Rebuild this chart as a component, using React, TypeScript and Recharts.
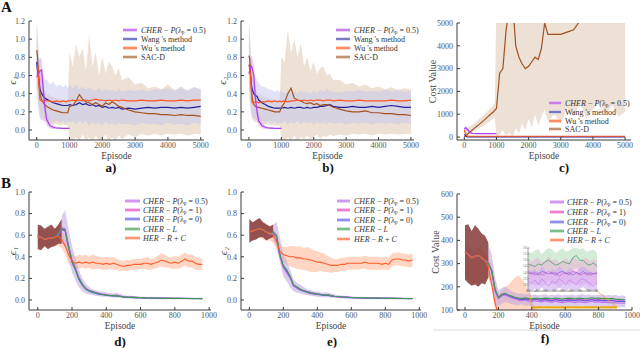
import React from 'react';
import { ComposedChart, Line, Area, XAxis, YAxis, ReferenceLine } from 'recharts';

const SERIF = '"Liberation Serif", "Times New Roman", "DejaVu Serif", serif';

// ---------- categories / ticks ----------
const X_AB = [0, 25, 50, 75, 100, 150, 200, 250, 300, 400, 500, 600, 700, 800, 900, 950, 1000, 1100, 1200, 1300, 1400, 1500, 1600, 1700, 1800, 1900, 2000, 2100, 2200, 2300, 2400, 2500, 2600, 2800, 3000, 3200, 3400, 3600, 3800, 4000, 4200, 4400, 4600, 4800, 5000];
const X_DEF = [0, 20, 40, 60, 80, 100, 120, 140, 160, 180, 200, 220, 240, 260, 280, 300, 320, 340, 360, 380, 400, 420, 440, 460, 480, 500, 520, 540, 560, 580, 600, 620, 640, 660, 680, 700, 720, 740, 760, 780, 800, 820, 840, 860, 880, 900, 920, 940, 960];
const X_INSET = [400, 420, 440, 460, 480, 500, 520, 540, 560, 580, 600, 620, 640, 660, 680, 700, 720, 740, 760, 780, 800];
const TICKS_X_AB = [0, 1000, 2000, 3000, 4000, 5000];
const TICKS_X_DEF = [0, 200, 400, 600, 800, 1000];
const TICKS_Y_AB = [0, 0.2, 0.4, 0.6, 0.8, 1.0, 1.2];
const TICKS_Y_DE = [0, 0.2, 0.4, 0.6, 0.8, 1.0];
const TICKS_Y_C = [0, 1000, 2000, 3000, 4000, 5000];
const TICKS_Y_F = [100, 200, 300, 400, 500, 600];
const TICKS_X_INSET = [400, 450, 500, 550, 600, 650, 700, 750, 800];
const TICKS_Y_INSET = [130, 135, 140, 145, 150, 155, 160];

// ---------- panel a (e1, long run) ----------
const A_CHER = [0.58, 0.6, 0.62, 0.63, 0.65, 0.66, 0.45, 0.25, 0.12, 0.05, 0.03, 0.022, 0.02, 0.018, 0.017, 0.017, 0.017];
const A_CHER_LO = [0.45, 0.45, 0.5, 0.5, 0.5, 0.45, 0.25, 0.12, 0.05, 0.02, 0.01, 0.01, 0.01, 0.01, 0.01, 0.01, 0.01];
const A_CHER_HI = [0.8, 0.8, 0.75, 0.78, 0.8, 0.78, 0.6, 0.38, 0.2, 0.09, 0.05, 0.035, 0.03, 0.025, 0.025, 0.025, 0.025];
const A_WANG = [0.75, 0.65, 0.6, 0.52, 0.45, 0.4, 0.37, 0.35, 0.34, 0.32, 0.3, 0.29, 0.28, 0.27, 0.27, 0.27, 0.28, 0.27, 0.28, 0.3, 0.28, 0.29, 0.27, 0.28, 0.26, 0.27, 0.25, 0.26, 0.24, 0.25, 0.24, 0.25, 0.23, 0.24, 0.23, 0.24, 0.25, 0.24, 0.25, 0.25, 0.24, 0.25, 0.24, 0.25, 0.26];
const A_WANG_LO = [0.45, 0.3, 0.25, 0.18, 0.12, 0.1, 0.14, 0.08, 0.12, 0.1, 0.07, 0.11, 0.08, 0.1, 0.06, 0.1, 0.08, 0.1, 0.06, 0.1, 0.07, 0.1, 0.05, 0.09, 0.06, 0.08, 0.05, 0.09, 0.06, 0.08, 0.05, 0.08, 0.06, 0.07, 0.05, 0.08, 0.06, 0.07, 0.05, 0.08, 0.06, 0.07, 0.05, 0.08, 0.06];
const A_WANG_HI = [1.15, 0.95, 0.9, 0.75, 0.7, 0.62, 0.6, 0.55, 0.56, 0.5, 0.53, 0.48, 0.5, 0.47, 0.5, 0.46, 0.5, 0.46, 0.5, 0.45, 0.48, 0.44, 0.47, 0.45, 0.43, 0.46, 0.42, 0.45, 0.43, 0.44, 0.42, 0.45, 0.42, 0.44, 0.43, 0.45, 0.42, 0.45, 0.44, 0.46, 0.43, 0.46, 0.44, 0.47, 0.45];
const A_WU = [0.7, 0.68, 0.62, 0.45, 0.33, 0.32, 0.32, 0.33, 0.32, 0.32, 0.31, 0.32, 0.31, 0.32, 0.31, 0.32, 0.32, 0.33, 0.32, 0.33, 0.32, 0.33, 0.32, 0.33, 0.34, 0.33, 0.33, 0.32, 0.33, 0.32, 0.33, 0.32, 0.33, 0.32, 0.32, 0.33, 0.32, 0.32, 0.33, 0.32, 0.32, 0.33, 0.32, 0.33, 0.33];
const A_SAC = [0.88, 0.8, 0.65, 0.5, 0.4, 0.33, 0.3, 0.28, 0.26, 0.24, 0.22, 0.21, 0.2, 0.19, 0.19, 0.19, 0.26, 0.27, 0.32, 0.39, 0.34, 0.31, 0.3, 0.28, 0.3, 0.28, 0.26, 0.3, 0.28, 0.31, 0.29, 0.26, 0.25, 0.22, 0.2, 0.19, 0.18, 0.18, 0.17, 0.17, 0.16, 0.17, 0.16, 0.16, 0.15];
const A_SAC_LO = [0.55, 0.45, 0.3, 0.2, 0.15, 0.12, 0.1, 0.1, 0.08, 0.08, 0.06, 0.07, 0.05, 0.06, 0.05, 0.05, -0.1, -0.12, -0.08, -0.12, -0.05, -0.12, -0.08, -0.12, -0.06, -0.12, -0.1, -0.05, -0.12, -0.08, -0.12, -0.06, -0.1, -0.05, -0.08, -0.04, -0.06, -0.04, -0.06, -0.04, -0.05, -0.04, -0.06, -0.04, -0.05];
const A_SAC_HI = [1.2, 1.1, 0.9, 0.7, 0.6, 0.5, 0.45, 0.42, 0.4, 0.38, 0.36, 0.35, 0.34, 0.33, 0.33, 0.33, 0.85, 0.7, 0.95, 0.8, 0.9, 0.65, 1.05, 0.7, 0.85, 0.6, 0.8, 0.62, 0.75, 0.7, 0.6, 0.68, 0.55, 0.58, 0.5, 0.52, 0.46, 0.48, 0.45, 0.5, 0.44, 0.48, 0.43, 0.47, 0.45];

// ---------- panel b (e2, long run) ----------
const B_CHER = [0.62, 0.66, 0.68, 0.7, 0.68, 0.6, 0.35, 0.2, 0.1, 0.05, 0.03, 0.022, 0.02, 0.018, 0.017, 0.017, 0.017];
const B_CHER_LO = [0.5, 0.52, 0.55, 0.58, 0.56, 0.45, 0.22, 0.1, 0.05, 0.02, 0.01, 0.01, 0.01, 0.01, 0.01, 0.01, 0.01];
const B_CHER_HI = [0.8, 0.82, 0.8, 0.82, 0.8, 0.72, 0.5, 0.32, 0.18, 0.09, 0.05, 0.035, 0.03, 0.025, 0.025, 0.025, 0.025];
const B_WANG = [0.7, 0.72, 0.6, 0.5, 0.45, 0.4, 0.38, 0.37, 0.33, 0.3, 0.28, 0.26, 0.25, 0.24, 0.24, 0.24, 0.24, 0.25, 0.24, 0.25, 0.24, 0.25, 0.25, 0.24, 0.25, 0.24, 0.25, 0.25, 0.26, 0.26, 0.27, 0.28, 0.26, 0.25, 0.25, 0.26, 0.25, 0.25, 0.26, 0.25, 0.26, 0.27, 0.26, 0.25, 0.25];
const B_WANG_LO = [0.4, 0.3, 0.22, 0.18, 0.15, 0.12, 0.13, 0.1, 0.12, 0.1, 0.08, 0.1, 0.07, 0.1, 0.06, 0.09, 0.07, 0.1, 0.06, 0.09, 0.07, 0.1, 0.06, 0.09, 0.07, 0.09, 0.06, 0.09, 0.07, 0.08, 0.06, 0.09, 0.07, 0.08, 0.06, 0.08, 0.07, 0.08, 0.06, 0.08, 0.07, 0.08, 0.06, 0.08, 0.07];
const B_WANG_HI = [1.1, 1.0, 0.88, 0.75, 0.68, 0.6, 0.58, 0.55, 0.52, 0.48, 0.47, 0.45, 0.44, 0.42, 0.44, 0.41, 0.43, 0.4, 0.44, 0.41, 0.43, 0.4, 0.43, 0.41, 0.42, 0.4, 0.43, 0.41, 0.44, 0.42, 0.45, 0.43, 0.42, 0.41, 0.43, 0.42, 0.44, 0.42, 0.43, 0.42, 0.44, 0.43, 0.44, 0.42, 0.43];
const B_WU = [0.72, 0.7, 0.6, 0.42, 0.3, 0.3, 0.31, 0.31, 0.3, 0.31, 0.31, 0.32, 0.31, 0.32, 0.31, 0.32, 0.31, 0.32, 0.31, 0.32, 0.32, 0.33, 0.32, 0.33, 0.32, 0.33, 0.32, 0.33, 0.33, 0.32, 0.33, 0.33, 0.32, 0.33, 0.32, 0.32, 0.33, 0.32, 0.32, 0.32, 0.32, 0.33, 0.32, 0.32, 0.33];
const B_SAC = [0.82, 0.78, 0.6, 0.45, 0.35, 0.28, 0.26, 0.25, 0.25, 0.24, 0.23, 0.22, 0.21, 0.2, 0.2, 0.2, 0.25, 0.3, 0.4, 0.46, 0.35, 0.33, 0.32, 0.3, 0.29, 0.3, 0.28, 0.29, 0.27, 0.28, 0.28, 0.27, 0.25, 0.23, 0.21, 0.2, 0.2, 0.21, 0.19, 0.19, 0.18, 0.18, 0.17, 0.17, 0.16];
const B_SAC_LO = [0.5, 0.4, 0.28, 0.18, 0.12, 0.1, 0.09, 0.08, 0.08, 0.07, 0.06, 0.06, 0.05, 0.05, 0.05, 0.05, -0.1, -0.12, -0.08, -0.12, -0.06, -0.12, -0.08, -0.1, -0.06, -0.1, -0.08, -0.05, -0.1, -0.06, -0.08, -0.05, -0.07, -0.05, -0.06, -0.04, -0.05, -0.04, -0.06, -0.04, -0.05, -0.04, -0.05, -0.04, -0.04];
const B_SAC_HI = [1.2, 1.1, 0.9, 0.72, 0.6, 0.5, 0.45, 0.42, 0.4, 0.38, 0.36, 0.35, 0.34, 0.33, 0.33, 0.33, 0.8, 0.75, 1.1, 0.85, 1.0, 0.8, 0.95, 0.7, 0.8, 0.65, 0.75, 0.62, 0.68, 0.7, 0.6, 0.62, 0.55, 0.55, 0.5, 0.52, 0.48, 0.5, 0.46, 0.48, 0.45, 0.47, 0.44, 0.46, 0.45];

// ---------- panel c (cost, long run) ----------
const C_CHER = [350, 380, 400, 360, 330, 250, 180, 160, 155, 150, 150, 150, 150, 148, 148, 150, 150];
const C_CHER_LO = [250, 280, 300, 270, 250, 170, 140, 135, 135, 135, 135, 135, 135, 135, 135, 135, 135];
const C_CHER_HI = [450, 480, 480, 450, 420, 340, 220, 180, 175, 170, 170, 170, 170, 168, 168, 170, 170];
const C_WANG = [120, 80, 40, 20, 10, 5, 5, 5, 5, 5, 5, 5, 5, 5, 5, 5, 5, 5, 5, 5, 5, 5, 5, 5, 5, 5, 5, 5, 5, 5, 5, 5, 5, 5, 5, 5, 5, 5, 5, 5, 5, 5, 5, 5, 5];
const C_WU = [300, 200, 120, 60, 40, 35, 35, 35, 35, 35, 35, 35, 35, 35, 35, 35, 35, 35, 35, 35, 35, 35, 35, 35, 35, 35, 35, 35, 35, 35, 35, 35, 35, 35, 35, 35, 35, 35, 35, 35, 35, 35, 35, 35, 35];
const C_SAC = [0, 30, 60, 90, 130, 190, 250, 310, 370, 480, 600, 720, 850, 980, 1100, 1180, 1250, 2800, 3000, 4700, 5600, 6000, 4000, 3500, 3200, 3000, 3100, 3300, 3500, 3400, 3900, 5000, 4500, 4500, 4500, 4600, 4700, 5100, 5400, 5600, 5700, 5900, 6000, 6100, 6200];
const C_SAC_LO = [0, 0, 10, 30, 60, 100, 150, 200, 250, 330, 420, 500, 600, 700, 800, 850, 0, 100, 300, 50, 200, 0, 400, 150, 600, 300, 800, 400, 1000, 500, 900, 1200, 700, 1000, 600, 1300, 900, 1500, 800, 1200, 1600, 1000, 1400, 900, 1100];
const C_SAC_HI = [300, 350, 350, 350, 400, 450, 500, 550, 600, 700, 850, 950, 1100, 1250, 1400, 1500, 6000, 6000, 6000, 6000, 6000, 6000, 6000, 6000, 6000, 6000, 6000, 6000, 6000, 6000, 6000, 6000, 6000, 6000, 6000, 6000, 6000, 6000, 6000, 6000, 6000, 6000, 6000, 6000, 6000];

// ---------- panel d (e1, ablation) ----------
const D_HER = [0.59, 0.58, 0.56, 0.57, 0.57, 0.58, 0.59, 0.56, 0.5, 0.42, 0.36, 0.34, 0.35, 0.34, 0.35, 0.34, 0.35, 0.34, 0.34, 0.33, 0.34, 0.33, 0.34, 0.33, 0.32, 0.31, 0.32, 0.32, 0.33, 0.33, 0.33, 0.34, 0.34, 0.33, 0.34, 0.35, 0.37, 0.36, 0.35, 0.34, 0.35, 0.34, 0.36, 0.38, 0.36, 0.36, 0.34, 0.33, 0.33];
const D_HER_LO = [0.5, 0.5, 0.48, 0.5, 0.49, 0.5, 0.5, 0.48, 0.42, 0.34, 0.3, 0.29, 0.29, 0.3, 0.29, 0.3, 0.28, 0.29, 0.29, 0.28, 0.28, 0.29, 0.28, 0.28, 0.27, 0.27, 0.27, 0.28, 0.28, 0.28, 0.29, 0.29, 0.28, 0.28, 0.29, 0.3, 0.31, 0.3, 0.3, 0.29, 0.29, 0.29, 0.3, 0.32, 0.3, 0.3, 0.28, 0.28, 0.28];
const D_HER_HI = [0.68, 0.66, 0.64, 0.65, 0.66, 0.66, 0.68, 0.64, 0.58, 0.5, 0.43, 0.4, 0.42, 0.41, 0.42, 0.4, 0.42, 0.41, 0.4, 0.39, 0.4, 0.39, 0.4, 0.38, 0.37, 0.36, 0.37, 0.37, 0.38, 0.38, 0.38, 0.39, 0.4, 0.38, 0.39, 0.41, 0.43, 0.42, 0.4, 0.39, 0.41, 0.4, 0.42, 0.44, 0.42, 0.42, 0.4, 0.39, 0.38];
const D_EARLY_LO = [0.47, 0.46, 0.5, 0.47, 0.49, 0.5, 0.52, 0.52];
const D_EARLY_HI = [0.7, 0.69, 0.66, 0.68, 0.7, 0.66, 0.7, 0.75];
const D_BAND_LO = [null, null, null, null, null, null, null, 0.52, 0.5, 0.38, 0.26, 0.18, 0.12, 0.08, 0.06, 0.05, 0.045, 0.04, 0.035, 0.03, 0.03, 0.025, 0.025, 0.02, 0.02, 0.015, 0.015, 0.012, 0.012, 0.01, 0.01, 0.008, 0.008, 0.007, 0.008, 0.007, 0.006, 0.007, 0.006, 0.006, 0.005, 0.006, 0.005, 0.005, 0.005, 0.005, 0.005, 0.004, 0.004];
const D_BAND_HI = [null, null, null, null, null, null, null, 0.78, 0.83, 0.65, 0.5, 0.38, 0.28, 0.2, 0.15, 0.12, 0.1, 0.09, 0.08, 0.075, 0.07, 0.065, 0.06, 0.065, 0.055, 0.045, 0.04, 0.04, 0.035, 0.035, 0.03, 0.03, 0.028, 0.03, 0.027, 0.026, 0.025, 0.027, 0.025, 0.024, 0.025, 0.023, 0.024, 0.022, 0.023, 0.022, 0.021, 0.022, 0.02];
const D_GREEN = [0.59, 0.58, 0.56, 0.57, 0.57, 0.58, 0.62, 0.66, 0.64, 0.48, 0.36, 0.28, 0.2, 0.14, 0.1, 0.085, 0.075, 0.065, 0.055, 0.05, 0.045, 0.042, 0.04, 0.038, 0.033, 0.028, 0.026, 0.025, 0.024, 0.022, 0.02, 0.019, 0.018, 0.018, 0.017, 0.017, 0.016, 0.016, 0.016, 0.015, 0.015, 0.015, 0.014, 0.014, 0.014, 0.013, 0.013, 0.013, 0.012];
const D_VIOLET = [0.59, 0.58, 0.56, 0.57, 0.57, 0.58, 0.61, 0.67, 0.66, 0.5, 0.37, 0.3, 0.21, 0.15, 0.11, 0.09, 0.08, 0.07, 0.062, 0.055, 0.05, 0.046, 0.044, 0.045, 0.038, 0.03, 0.028, 0.027, 0.026, 0.024, 0.022, 0.021, 0.02, 0.019, 0.019, 0.018, 0.018, 0.017, 0.017, 0.016, 0.016, 0.016, 0.015, 0.015, 0.015, 0.014, 0.014, 0.014, 0.013];
const D_BLUE = [0.59, 0.58, 0.56, 0.57, 0.57, 0.58, 0.6, 0.66, 0.65, 0.49, 0.35, 0.28, 0.19, 0.14, 0.1, 0.08, 0.07, 0.06, 0.05, 0.048, 0.044, 0.04, 0.038, 0.036, 0.032, 0.027, 0.025, 0.024, 0.022, 0.021, 0.02, 0.018, 0.017, 0.017, 0.016, 0.016, 0.015, 0.015, 0.015, 0.014, 0.014, 0.014, 0.013, 0.013, 0.013, 0.012, 0.012, 0.012, 0.011];
const D_PINK = [0.59, 0.58, 0.56, 0.57, 0.57, 0.58, 0.6, 0.65, 0.64, 0.5, 0.36, 0.29, 0.2, 0.14, 0.11, 0.085, 0.075, 0.065, 0.058, 0.05, 0.046, 0.042, 0.04, 0.04, 0.034, 0.028, 0.026, 0.025, 0.024, 0.022, 0.02, 0.019, 0.019, 0.018, 0.018, 0.017, 0.017, 0.016, 0.016, 0.016, 0.015, 0.015, 0.015, 0.014, 0.014, 0.014, 0.013, 0.013, 0.013];

// ---------- panel e (e2, ablation) ----------
const E_HER = [0.63, 0.64, 0.65, 0.66, 0.65, 0.63, 0.62, 0.6, 0.54, 0.45, 0.42, 0.41, 0.4, 0.4, 0.39, 0.39, 0.38, 0.38, 0.37, 0.36, 0.35, 0.35, 0.34, 0.33, 0.32, 0.32, 0.32, 0.33, 0.33, 0.34, 0.34, 0.34, 0.34, 0.34, 0.35, 0.34, 0.34, 0.34, 0.34, 0.33, 0.34, 0.33, 0.37, 0.38, 0.38, 0.37, 0.37, 0.36, 0.37];
const E_HER_LO = [0.55, 0.56, 0.57, 0.58, 0.56, 0.55, 0.55, 0.53, 0.47, 0.38, 0.35, 0.33, 0.31, 0.3, 0.29, 0.28, 0.28, 0.27, 0.26, 0.26, 0.26, 0.27, 0.26, 0.26, 0.25, 0.26, 0.26, 0.27, 0.27, 0.28, 0.28, 0.28, 0.28, 0.29, 0.29, 0.28, 0.28, 0.28, 0.28, 0.28, 0.28, 0.28, 0.31, 0.32, 0.32, 0.31, 0.31, 0.3, 0.31];
const E_HER_HI = [0.72, 0.72, 0.74, 0.75, 0.73, 0.71, 0.69, 0.67, 0.61, 0.52, 0.49, 0.49, 0.5, 0.5, 0.49, 0.5, 0.48, 0.49, 0.48, 0.46, 0.45, 0.44, 0.43, 0.41, 0.39, 0.38, 0.38, 0.39, 0.39, 0.4, 0.4, 0.4, 0.4, 0.4, 0.41, 0.4, 0.4, 0.4, 0.4, 0.39, 0.4, 0.39, 0.43, 0.44, 0.44, 0.43, 0.43, 0.42, 0.43];
const E_EARLY_LO = [0.53, 0.55, 0.56, 0.58, 0.58, 0.55, 0.57, 0.58];
const E_EARLY_HI = [0.75, 0.72, 0.74, 0.76, 0.72, 0.7, 0.68, 0.7];
const E_BAND_LO = [null, null, null, null, null, null, null, 0.55, 0.5, 0.35, 0.22, 0.17, 0.12, 0.08, 0.07, 0.06, 0.05, 0.045, 0.04, 0.035, 0.03, 0.028, 0.025, 0.025, 0.02, 0.018, 0.015, 0.013, 0.012, 0.01, 0.01, 0.008, 0.008, 0.007, 0.008, 0.007, 0.006, 0.007, 0.006, 0.006, 0.005, 0.006, 0.005, 0.005, 0.005, 0.005, 0.005, 0.004, 0.004];
const E_BAND_HI = [null, null, null, null, null, null, null, 0.7, 0.72, 0.58, 0.42, 0.36, 0.28, 0.19, 0.16, 0.14, 0.12, 0.1, 0.09, 0.08, 0.075, 0.07, 0.068, 0.07, 0.06, 0.05, 0.045, 0.042, 0.04, 0.036, 0.033, 0.03, 0.028, 0.03, 0.027, 0.026, 0.025, 0.027, 0.025, 0.024, 0.025, 0.023, 0.024, 0.022, 0.023, 0.022, 0.021, 0.022, 0.02];
const E_GREEN = [0.63, 0.64, 0.65, 0.66, 0.65, 0.63, 0.62, 0.63, 0.6, 0.42, 0.32, 0.28, 0.22, 0.14, 0.12, 0.1, 0.085, 0.075, 0.065, 0.06, 0.055, 0.05, 0.045, 0.045, 0.04, 0.035, 0.032, 0.03, 0.028, 0.025, 0.023, 0.022, 0.021, 0.02, 0.019, 0.018, 0.018, 0.017, 0.017, 0.016, 0.016, 0.015, 0.015, 0.015, 0.014, 0.014, 0.013, 0.013, 0.013];
const E_VIOLET = [0.63, 0.64, 0.65, 0.66, 0.65, 0.63, 0.61, 0.62, 0.58, 0.4, 0.3, 0.25, 0.2, 0.13, 0.11, 0.095, 0.085, 0.075, 0.07, 0.065, 0.058, 0.052, 0.048, 0.05, 0.042, 0.035, 0.032, 0.03, 0.028, 0.026, 0.024, 0.023, 0.022, 0.021, 0.02, 0.019, 0.019, 0.018, 0.018, 0.017, 0.017, 0.016, 0.016, 0.016, 0.015, 0.015, 0.014, 0.014, 0.014];
const E_BLUE = [0.63, 0.64, 0.65, 0.66, 0.65, 0.63, 0.61, 0.62, 0.59, 0.41, 0.31, 0.26, 0.21, 0.13, 0.11, 0.09, 0.08, 0.07, 0.06, 0.055, 0.05, 0.046, 0.042, 0.042, 0.038, 0.033, 0.03, 0.028, 0.026, 0.024, 0.022, 0.021, 0.02, 0.019, 0.018, 0.017, 0.017, 0.016, 0.016, 0.015, 0.015, 0.015, 0.014, 0.014, 0.014, 0.013, 0.013, 0.012, 0.012];
const E_PINK = [0.63, 0.64, 0.65, 0.66, 0.65, 0.63, 0.61, 0.62, 0.58, 0.41, 0.31, 0.27, 0.21, 0.14, 0.12, 0.1, 0.088, 0.078, 0.068, 0.062, 0.056, 0.05, 0.046, 0.048, 0.04, 0.034, 0.031, 0.029, 0.027, 0.025, 0.023, 0.022, 0.021, 0.02, 0.019, 0.019, 0.018, 0.018, 0.017, 0.017, 0.016, 0.016, 0.015, 0.015, 0.015, 0.014, 0.014, 0.014, 0.013];

// ---------- panel f (cost, ablation) ----------
const F_HER = [350, 340, 325, 332, 335, 325, 312, 285, 210, 130, 80];
const F_HER_LO = [240, 230, 220, 215, 225, 220, 230, 240, 190, 100, 60, 60, 60, 60, 60, 60, 60, 60, 60, 60, 60, 60, 60];
const F_HER_HI = [380, 370, 360, 365, 370, 360, 340, 330, 300, 230, 170, 180, 200, 210, 225, 240, 250, 235, 215, 180, 140, 115, 95];
const F_EARLY_LO = [230, 215, 205, 210, 200, 215, 210, 240];
const F_EARLY_HI = [465, 470, 440, 465, 450, 430, 420, 390];
const F_BAND_LO = [null, null, null, null, null, null, null, 250, 200, 120, 115, 125, 135, 130, 125, 122, 120, 125, 118, 120, 115, 118, 112, 115, 118, 112, 116, 114, 118, 112, 115, 113, 117, 112, 115, 118, 113, 116, 112, 115, 113, 117, 112, 114, 112, 115, 110, 113, 111];
const F_BAND_HI = [null, null, null, null, null, null, null, 380, 340, 240, 185, 195, 200, 190, 180, 175, 170, 172, 168, 170, 165, 168, 164, 166, 169, 163, 167, 165, 168, 162, 166, 164, 168, 163, 166, 169, 164, 167, 163, 166, 164, 168, 162, 165, 163, 166, 160, 163, 160];
const F_GREEN = [350, 340, 325, 332, 335, 325, 312, 300, 270, 190, 155, 168, 172, 165, 160, 155, 152, 150, 153, 150, 148, 152, 150, 149, 151, 150, 148, 152, 150, 147, 149, 151, 150, 148, 152, 150, 148, 151, 153, 150, 152, 149, 150, 148, 150, 147, 146, 145, 144];
const F_VIOLET = [350, 340, 325, 332, 335, 325, 312, 305, 265, 180, 148, 160, 165, 158, 152, 148, 142, 140, 143, 138, 136, 140, 137, 135, 139, 136, 133, 138, 135, 132, 134, 137, 135, 132, 136, 134, 131, 135, 138, 134, 136, 133, 134, 131, 133, 130, 131, 129, 130];
const F_BLUE = [350, 340, 325, 332, 335, 325, 312, 302, 268, 185, 150, 163, 168, 160, 155, 150, 147, 145, 147, 144, 142, 145, 143, 142, 144, 142, 140, 144, 142, 139, 141, 143, 142, 140, 144, 142, 139, 142, 144, 141, 143, 140, 141, 139, 141, 138, 137, 137, 136];
const F_PINK = [350, 340, 325, 332, 335, 325, 312, 303, 268, 186, 152, 165, 170, 162, 157, 152, 149, 147, 149, 146, 144, 147, 145, 144, 146, 144, 142, 146, 144, 141, 143, 145, 144, 142, 146, 144, 141, 144, 146, 143, 145, 142, 143, 141, 143, 140, 139, 139, 138];
const F_ZOOM_BAR = [{ x: 400, y: 111 }, { x: 910, y: 111 }];
const F_LINK_RIGHT = [{ x: 910, y: 111 }, { x: 790, y: 182 }];
const F_LINK_LEFT = [{ x: 400, y: 111 }, { x: 385, y: 182 }];

// ---------- inset of panel f ----------
const I_GREEN = [147, 146, 145, 147, 146, 149, 150, 148, 146, 147, 149, 148, 147, 152, 154, 150, 150, 147, 146, 148, 145];
const I_PINK = [139, 140, 138, 140, 138, 139, 141, 139, 140, 137, 139, 140, 138, 141, 140, 138, 139, 140, 138, 139, 139];
const I_BLUE = [141, 139, 140, 138, 141, 140, 139, 140, 138, 140, 141, 139, 140, 138, 140, 139, 141, 138, 140, 139, 140];
const I_VIOLET = [133, 131, 134, 130, 135, 132, 129, 133, 131, 135, 133, 130, 134, 132, 130, 134, 135, 133, 131, 129, 132];
const I_GREEN_LO = [138, 137, 139, 136, 138, 140, 141, 138, 137, 139, 140, 138, 137, 142, 144, 141, 140, 138, 137, 139, 136];
const I_GREEN_HI = [157, 156, 158, 159, 155, 158, 160, 159, 156, 158, 160, 157, 158, 160, 160, 159, 160, 157, 158, 159, 156];
const I_PINK_LO = [130, 132, 129, 131, 128, 130, 133, 130, 131, 127, 130, 132, 129, 132, 131, 129, 130, 131, 128, 131, 130];
const I_PINK_HI = [150, 149, 151, 152, 148, 150, 153, 150, 151, 148, 150, 152, 149, 153, 151, 149, 151, 152, 149, 151, 150];
const I_VIOLET_LO = [126, 125, 127, 125, 128, 125, 125, 126, 125, 128, 126, 125, 127, 125, 125, 127, 128, 126, 125, 125, 125];
const I_VIOLET_HI = [142, 141, 143, 140, 145, 142, 139, 143, 141, 145, 143, 140, 144, 142, 140, 144, 145, 143, 141, 139, 142];

type Num = number | null;
function table(xs: number[], lines: Record<string, Num[]>, bands: Record<string, [Num[], Num[]]>) {
  return xs.map((x, i) => {
    const row: any = { x };
    for (const k of Object.keys(lines)) {
      const v = lines[k][i];
      row[k] = v === undefined ? null : v;
    }
    for (const k of Object.keys(bands)) {
      const lo = bands[k][0][i];
      const hi = bands[k][1][i];
      row[k] = lo == null || hi == null ? null : [lo, hi];
    }
    return row;
  });
}

const rowsA = table(X_AB, { cher: A_CHER, wang: A_WANG, wu: A_WU, sac: A_SAC }, { sacBand: [A_SAC_LO, A_SAC_HI], wangBand: [A_WANG_LO, A_WANG_HI], cherBand: [A_CHER_LO, A_CHER_HI] });
const rowsB = table(X_AB, { cher: B_CHER, wang: B_WANG, wu: B_WU, sac: B_SAC }, { sacBand: [B_SAC_LO, B_SAC_HI], wangBand: [B_WANG_LO, B_WANG_HI], cherBand: [B_CHER_LO, B_CHER_HI] });
const rowsC = table(X_AB, { cher: C_CHER, wang: C_WANG, wu: C_WU, sac: C_SAC }, { sacBand: [C_SAC_LO, C_SAC_HI], cherBand: [C_CHER_LO, C_CHER_HI] });
const rowsD = table(X_DEF, { her: D_HER, green: D_GREEN, violet: D_VIOLET, blue: D_BLUE, pink: D_PINK }, { herBand: [D_HER_LO, D_HER_HI], earlyBand: [D_EARLY_LO, D_EARLY_HI], cherBand: [D_BAND_LO, D_BAND_HI] });
const rowsE = table(X_DEF, { her: E_HER, green: E_GREEN, violet: E_VIOLET, blue: E_BLUE, pink: E_PINK }, { herBand: [E_HER_LO, E_HER_HI], earlyBand: [E_EARLY_LO, E_EARLY_HI], cherBand: [E_BAND_LO, E_BAND_HI] });
const rowsF = table(X_DEF, { her: F_HER, green: F_GREEN, violet: F_VIOLET, blue: F_BLUE, pink: F_PINK }, { herBand: [F_HER_LO, F_HER_HI], earlyBand: [F_EARLY_LO, F_EARLY_HI], cherBand: [F_BAND_LO, F_BAND_HI] });
const rowsI = table(X_INSET, { green: I_GREEN, pink: I_PINK, blue: I_BLUE, violet: I_VIOLET }, { greenBand: [I_GREEN_LO, I_GREEN_HI], pinkBand: [I_PINK_LO, I_PINK_HI], violetBand: [I_VIOLET_LO, I_VIOLET_HI] });

// colours
const COL = {
  cher: '#b23ee8', cherBand: '#d7b0f2',
  wang: '#22229a', wangBand: '#c3c6ee',
  wu: '#ff5420', wuLight: '#ffb08a',
  sac: '#a2521f', sacBand: '#dcc2aa',
  violet: '#c070f0', pink: '#e444c0', blue: '#5a5ae4', green: '#3a9a50', her: '#ff5c28',
  herBand: '#ffc4aa', early: '#84393a', band: '#c3a8e0',
};

type AreaSpec = { key: string; fill: string; opacity: number };
type LineSpec = { key: string; color: string; width?: number };
type PanelProps = {
  left: number; top: number; width: number; height: number; mTop: number; mRight?: number; yWidth: number;
  rows: any[]; xDomain: [number, number]; xTicks: number[]; yDomain: [number, number]; yTicks: number[];
  yFormat: (v: number) => string; yTitle: string; yTitleX: number; yTitleSize: number; yTitleItalic?: boolean;
  areas: AreaSpec[]; lines: LineSpec[]; children?: React.ReactNode;
};

const AXIS = '#3a3a3a';
const TICK_STYLE = { fontSize: 8, fill: '#555', fontFamily: SERIF };

function Panel(p: PanelProps) {
  const mRight = p.mRight ?? 6;
  return (
    <div style={{ position: 'absolute', left: p.left, top: p.top, width: p.width, height: p.height + 5 }}>
      <ComposedChart width={p.width} height={p.height + 5} data={p.rows} margin={{ top: p.mTop, right: mRight, bottom: 5, left: 0 }}>
        <XAxis dataKey="x" type="number" domain={p.xDomain} ticks={p.xTicks} interval={0} allowDataOverflow height={19}
          stroke={AXIS} tickSize={-3} tickMargin={5} tick={TICK_STYLE}
          label={{ value: 'Episode', position: 'insideBottom', offset: 0, style: { fontSize: 9.5, fill: '#444', fontFamily: SERIF } }} />
        <XAxis xAxisId="top" orientation="top" dataKey="x" type="number" domain={p.xDomain} ticks={p.xTicks} interval={0}
          allowDataOverflow height={0} stroke={AXIS} tickSize={-3} tick={false} />
        <YAxis type="number" domain={p.yDomain} ticks={p.yTicks} interval={0} allowDataOverflow width={p.yWidth}
          stroke={AXIS} tickSize={-3} tickMargin={7} tick={TICK_STYLE} tickFormatter={p.yFormat}
          label={{ value: p.yTitle, angle: -90, position: 'insideLeft', offset: p.yTitleX,
            style: { textAnchor: 'middle', fontSize: p.yTitleSize, fill: '#444', fontFamily: SERIF, fontStyle: p.yTitleItalic ? 'italic' : 'normal' } }} />
        <YAxis yAxisId="right" orientation="right" type="number" domain={p.yDomain} ticks={p.yTicks} interval={0}
          allowDataOverflow width={0} stroke={AXIS} tickSize={-3} tick={false} />
        {p.areas.map((a) => (
          <Area key={a.key} dataKey={a.key} type="linear" stroke="none" fill={a.fill} fillOpacity={a.opacity}
            isAnimationActive={false} connectNulls={false} dot={false} activeDot={false} />
        ))}
        {p.lines.map((l) => (
          <Line key={l.key} dataKey={l.key} type="linear" stroke={l.color} strokeWidth={l.width ?? 1.1}
            dot={false} activeDot={false} isAnimationActive={false} connectNulls={false} />
        ))}
        {p.children}
      </ComposedChart>
    </div>
  );
}

const fmt1 = (v: number) => v.toFixed(1);
const fmt0 = (v: number) => String(v);

// legend helpers (SVG text)
function CherP(v: string) {
  return (
    <>
      <tspan fontStyle="italic">CHER</tspan>
      <tspan> − </tspan>
      <tspan fontStyle="italic">P</tspan>
      <tspan>(λ</tspan>
      <tspan fontSize="5.5" dy="1.6">p</tspan>
      <tspan dy="-1.6"> = {v})</tspan>
    </>
  );
}
const CHER_L = (<><tspan fontStyle="italic">CHER</tspan><tspan> − </tspan><tspan fontStyle="italic">L</tspan></>);
const HER_RC = (<><tspan fontStyle="italic">HER</tspan><tspan> − </tspan><tspan fontStyle="italic">R</tspan><tspan> + </tspan><tspan fontStyle="italic">C</tspan></>);

type LegRow = { color: string; light: string; label: React.ReactNode };
function Legend({ x0, x1, tx, ys, rows }: { x0: number; x1: number; tx: number; ys: number[]; rows: LegRow[] }) {
  return (
    <g>
      {rows.map((r, i) => (
        <g key={i}>
          <line x1={x0} x2={x1} y1={ys[i]} y2={ys[i]} stroke={r.light} strokeWidth={3.5} strokeOpacity={0.75} />
          <line x1={x0} x2={x1} y1={ys[i]} y2={ys[i]} stroke={r.color} strokeWidth={1} />
          <text x={tx} y={ys[i]} dominantBaseline="central" fontSize={8} fontFamily={SERIF} fill="#333">{r.label}</text>
        </g>
      ))}
    </g>
  );
}

const LEG_ABC: LegRow[] = [
  { color: COL.cher, light: COL.cherBand, label: CherP('0.5') },
  { color: COL.wang, light: COL.wangBand, label: "Wang 's method" },
  { color: COL.wu, light: COL.wuLight, label: "Wu 's method" },
  { color: COL.sac, light: COL.sacBand, label: 'SAC-D' },
];
const LEG_DEF: LegRow[] = [
  { color: COL.violet, light: '#d9a8f6', label: CherP('0.5') },
  { color: COL.pink, light: '#f2a0de', label: CherP('1') },
  { color: COL.blue, light: '#b0b0f2', label: CherP('0') },
  { color: COL.green, light: '#a6d4ae', label: CHER_L },
  { color: COL.her, light: '#ffbfa4', label: HER_RC },
];

const AREAS_AB: AreaSpec[] = [
  { key: 'sacBand', fill: COL.sacBand, opacity: 0.5 },
  { key: 'wangBand', fill: COL.wangBand, opacity: 0.5 },
  { key: 'cherBand', fill: COL.cherBand, opacity: 0.6 },
];
const LINES_AB: LineSpec[] = [
  { key: 'wang', color: COL.wang, width: 1.2 },
  { key: 'sac', color: COL.sac, width: 1.2 },
  { key: 'wu', color: COL.wu, width: 1.2 },
  { key: 'cher', color: COL.cher, width: 1.2 },
];
const AREAS_DEF: AreaSpec[] = [
  { key: 'herBand', fill: COL.herBand, opacity: 0.7 },
  { key: 'cherBand', fill: COL.band, opacity: 0.6 },
  { key: 'earlyBand', fill: COL.early, opacity: 0.85 },
];
const LINES_DEF: LineSpec[] = [
  { key: 'pink', color: COL.pink },
  { key: 'blue', color: COL.blue },
  { key: 'violet', color: COL.violet },
  { key: 'green', color: COL.green },
  { key: 'her', color: COL.her },
];

export default function App() {
  return (
    <div style={{ position: 'absolute', left: 0, top: 0, width: 640, height: 348, background: '#fff', overflow: 'hidden' }}>
      <Panel left={0} top={0} width={210} height={159} mTop={21} yWidth={29} rows={rowsA}
        xDomain={[-235, 5100]} xTicks={TICKS_X_AB} yDomain={[-0.11, 1.2]} yTicks={TICKS_Y_AB} yFormat={fmt1}
        yTitle="ϵ₁" yTitleX={12} yTitleSize={11} yTitleItalic areas={AREAS_AB} lines={LINES_AB} />
      <Panel left={212} top={0} width={208} height={159} mTop={21} yWidth={29} rows={rowsB}
        xDomain={[-245, 5095]} xTicks={TICKS_X_AB} yDomain={[-0.11, 1.2]} yTicks={TICKS_Y_AB} yFormat={fmt1}
        yTitle="ϵ₂" yTitleX={10} yTitleSize={11} yTitleItalic areas={AREAS_AB} lines={LINES_AB} />
      <Panel left={420} top={0} width={219} height={159} mTop={23} mRight={8} yWidth={37} rows={rowsC}
        xDomain={[-227, 5185]} xTicks={TICKS_X_AB} yDomain={[-130, 5000]} yTicks={TICKS_Y_C} yFormat={fmt0}
        yTitle="Cost Value" yTitleX={12} yTitleSize={10}
        areas={[{ key: 'sacBand', fill: COL.sacBand, opacity: 0.5 }, { key: 'cherBand', fill: COL.cherBand, opacity: 0.7 }]}
        lines={[{ key: 'sac', color: COL.sac, width: 1.2 }, { key: 'wang', color: COL.wang, width: 1.2 }, { key: 'wu', color: COL.wu, width: 1.2 }, { key: 'cher', color: COL.cher, width: 1.2 }]} />
      <Panel left={0} top={170} width={217} height={159} mTop={22} yWidth={29} rows={rowsD}
        xDomain={[-51, 1011]} xTicks={TICKS_X_DEF} yDomain={[-0.093, 1.0]} yTicks={TICKS_Y_DE} yFormat={fmt1}
        yTitle="ϵ₁" yTitleX={12} yTitleSize={11} yTitleItalic areas={AREAS_DEF} lines={LINES_DEF} />
      <Panel left={212} top={170} width={215} height={159} mTop={22} yWidth={29} rows={rowsE}
        xDomain={[-49, 1010]} xTicks={TICKS_X_DEF} yDomain={[-0.093, 1.0]} yTicks={TICKS_Y_DE} yFormat={fmt1}
        yTitle="ϵ₂" yTitleX={11} yTitleSize={11} yTitleItalic areas={AREAS_DEF} lines={LINES_DEF} />
      <Panel left={420} top={170} width={220} height={159} mTop={24} mRight={8} yWidth={37} rows={rowsF}
        xDomain={[-48, 1000]} xTicks={TICKS_X_DEF} yDomain={[100, 600]} yTicks={TICKS_Y_F} yFormat={fmt0}
        yTitle="Cost Value" yTitleX={15} yTitleSize={10} areas={AREAS_DEF} lines={LINES_DEF}>
        <ReferenceLine segment={F_ZOOM_BAR} stroke="#e8aa10" strokeWidth={2.2} />
        <ReferenceLine segment={F_LINK_RIGHT} stroke="#f0a838" strokeWidth={0.8} />
        <ReferenceLine segment={F_LINK_LEFT} stroke="#f0a838" strokeWidth={0.8} />
      </Panel>

      {/* inset of panel f */}
      <div style={{ position: 'absolute', left: 528, top: 248, width: 69, height: 43, background: '#fff' }} />
      <div style={{ position: 'absolute', left: 520, top: 246, width: 78, height: 50 }}>
        <ComposedChart width={78} height={50} data={rowsI} margin={{ top: 2, right: 1, bottom: 0, left: 0 }}>
          <XAxis dataKey="x" type="number" domain={[400, 800]} ticks={TICKS_X_INSET} interval={0} height={5}
            stroke="#9a9a9a" tickSize={-1.5} tickMargin={0.5} tick={{ fontSize: 3, fill: '#777' }} />
          <XAxis xAxisId="top" orientation="top" dataKey="x" type="number" domain={[400, 800]} height={0} stroke="#9a9a9a" tick={false} tickLine={false} />
          <YAxis type="number" domain={[125, 160]} ticks={TICKS_Y_INSET} interval={0} width={8}
            stroke="#9a9a9a" tickSize={-1.5} tickMargin={2} tick={{ fontSize: 3, fill: '#777' }} />
          <YAxis yAxisId="right" orientation="right" type="number" domain={[125, 160]} width={0} stroke="#9a9a9a" tick={false} tickLine={false} />
          <Area dataKey="greenBand" type="linear" stroke="none" fill="#9fd4a6" fillOpacity={0.45} isAnimationActive={false} />
          <Area dataKey="pinkBand" type="linear" stroke="none" fill="#f0a6dc" fillOpacity={0.45} isAnimationActive={false} />
          <Area dataKey="violetBand" type="linear" stroke="none" fill="#c9a2f2" fillOpacity={0.55} isAnimationActive={false} />
          <Line dataKey="blue" type="linear" stroke={COL.blue} strokeWidth={0.6} dot={false} isAnimationActive={false} />
          <Line dataKey="pink" type="linear" stroke={COL.pink} strokeWidth={0.6} dot={false} isAnimationActive={false} />
          <Line dataKey="violet" type="linear" stroke={COL.violet} strokeWidth={0.6} dot={false} isAnimationActive={false} />
          <Line dataKey="green" type="linear" stroke={COL.green} strokeWidth={0.7} dot={false} isAnimationActive={false} />
        </ComposedChart>
      </div>

      {/* overlay: panel letters, legends */}
      <svg width={640} height={348} style={{ position: 'absolute', left: 0, top: 0, pointerEvents: 'none' }}>
        <text x={1} y={12} fontSize={15} fontWeight="bold" fontFamily={SERIF} fill="#111">A</text>
        <text x={1} y={188} fontSize={15} fontWeight="bold" fontFamily={SERIF} fill="#111">B</text>
        <text x={111} y={172} textAnchor="middle" fontSize={13} fontWeight="bold" fontFamily={SERIF} fill="#111">a)</text>
        <text x={328} y={172} textAnchor="middle" fontSize={13} fontWeight="bold" fontFamily={SERIF} fill="#111">b)</text>
        <text x={564} y={172} textAnchor="middle" fontSize={13} fontWeight="bold" fontFamily={SERIF} fill="#111">c)</text>
        <text x={120} y={346} textAnchor="middle" fontSize={13} fontWeight="bold" fontFamily={SERIF} fill="#111">d)</text>
        <text x={332} y={346} textAnchor="middle" fontSize={13} fontWeight="bold" fontFamily={SERIF} fill="#111">e)</text>
        <text x={545} y={343} textAnchor="middle" fontSize={13} fontWeight="bold" fontFamily={SERIF} fill="#111">f)</text>
        <line x1={433} x2={640} y1={330} y2={330} stroke="#d8d8d8" strokeWidth={1} />
        <Legend x0={123} x1={137} tx={141} ys={[30, 39, 48, 57]} rows={LEG_ABC} />
        <Legend x0={336} x1={350} tx={354} ys={[30, 39, 48, 57]} rows={LEG_ABC} />
        <Legend x0={549} x1={561} tx={565} ys={[103, 112, 121, 129]} rows={LEG_ABC} />
        <Legend x0={125} x1={140} tx={143} ys={[201, 210, 219, 229, 238]} rows={LEG_DEF} />
        <Legend x0={337} x1={350} tx={354} ys={[201, 210, 220, 229, 239]} rows={LEG_DEF} />
        <Legend x0={550} x1={564} tx={567} ys={[202, 212, 222, 231, 240]} rows={LEG_DEF} />
      </svg>
    </div>
  );
}
